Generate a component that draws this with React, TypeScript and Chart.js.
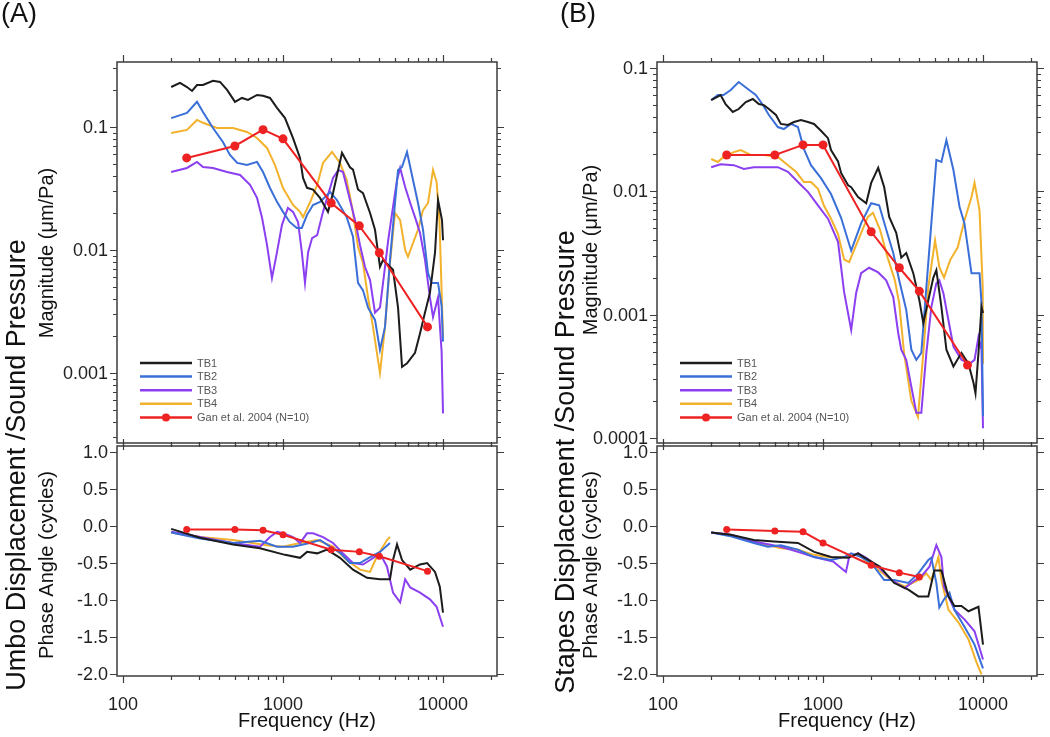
import { useEffect, useRef } from "react";
import { Chart, registerables } from "chart.js";

Chart.register(...registerables);

type Pt = [number, number];

const FONT = '"Liberation Sans", Arial, Helvetica, sans-serif';

const seriesNames = ["TB1", "TB2", "TB3", "TB4", "Gan et al. 2004 (N=10)"];
const seriesColors = ["#1c1c1c", "#3a6fd8", "#8b3ff0", "#f2b22c", "#ee2222"];

// ---------- Panel A: umbo magnitude (um/Pa) ----------
const magA_TB1: Pt[] = [
  [200, 0.211], [227, 0.228], [251, 0.211], [270, 0.196], [290, 0.219], [316, 0.219], [365, 0.237],
  [404, 0.232], [447, 0.2], [501, 0.16], [554, 0.172], [604, 0.166], [688, 0.182], [750, 0.179],
  [829, 0.172], [917, 0.143], [1029, 0.118], [1155, 0.081], [1277, 0.056], [1334, 0.0385],
  [1413, 0.032], [1540, 0.031], [1703, 0.0265], [1910, 0.0204], [2054, 0.029], [2337, 0.0615],
  [2622, 0.047], [2738, 0.045], [2943, 0.031], [3162, 0.029], [3499, 0.02], [3758, 0.0146],
  [4037, 0.0073], [4217, 0.0083], [4870, 0.0069], [5236, 0.0034], [5546, 0.00112], [5957, 0.0012],
  [6683, 0.00146], [7180, 0.0021], [7718, 0.0031], [8289, 0.0045], [8913, 0.0095], [9306, 0.0255],
  [9857, 0.0175], [10000, 0.012],
];
const magA_TB2: Pt[] = [
  [200, 0.118], [251, 0.13], [290, 0.16], [316, 0.132], [365, 0.098], [421, 0.0755], [466, 0.0592],
  [517, 0.051], [595, 0.049], [688, 0.052], [750, 0.043], [829, 0.0319], [917, 0.0246], [1000, 0.0204],
  [1101, 0.0169], [1220, 0.0151], [1311, 0.0151], [1413, 0.0193], [1540, 0.0232], [1703, 0.0246],
  [1970, 0.0296], [2170, 0.0255], [2500, 0.0185], [2738, 0.0128], [2943, 0.0054], [3162, 0.0047],
  [3400, 0.0034], [3758, 0.0027], [4037, 0.00154], [4340, 0.00237], [4663, 0.0083], [5012, 0.0241],
  [5236, 0.0447], [5546, 0.0473], [5957, 0.0626], [6494, 0.037], [6978, 0.0241], [7499, 0.0146],
  [8058, 0.0065], [8483, 0.0054], [9306, 0.0054], [9800, 0.0035], [10000, 0.0018],
];
const magA_TB3: Pt[] = [
  [200, 0.043], [251, 0.0464], [290, 0.052], [316, 0.0473], [365, 0.0464], [447, 0.043], [539, 0.0407],
  [622, 0.0338], [688, 0.0265], [740, 0.0182], [794, 0.011], [853, 0.0059], [917, 0.0096], [985, 0.016],
  [1073, 0.022], [1155, 0.0204], [1241, 0.0169], [1311, 0.0096], [1372, 0.0054], [1435, 0.0096],
  [1520, 0.0125], [1635, 0.0132], [1778, 0.0204], [1910, 0.028], [2054, 0.0385], [2218, 0.0447],
  [2371, 0.043], [2622, 0.0255], [2818, 0.0175], [3027, 0.011], [3252, 0.0073], [3499, 0.0057],
  [3758, 0.0031], [4037, 0.0034], [4340, 0.0073], [4545, 0.012], [4870, 0.0224], [5160, 0.037],
  [5395, 0.0464], [5800, 0.0325], [6237, 0.0241], [6683, 0.0185], [7180, 0.0138], [7718, 0.0083],
  [8289, 0.0041], [8660, 0.00285], [9306, 0.0041], [9800, 0.0015], [10000, 0.00047],
];
const magA_TB4: Pt[] = [
  [200, 0.0894], [251, 0.0946], [290, 0.114], [316, 0.108], [387, 0.098], [487, 0.098], [595, 0.091],
  [688, 0.0814], [794, 0.0675], [891, 0.049], [1000, 0.0319], [1155, 0.0232], [1277, 0.0204],
  [1334, 0.0185], [1480, 0.0246], [1635, 0.0338], [1778, 0.051], [2023, 0.0626], [2270, 0.051],
  [2500, 0.037], [2700, 0.0224], [2943, 0.0106], [3162, 0.0078], [3400, 0.0041], [3650, 0.00237],
  [4037, 0.001], [4340, 0.00237], [4663, 0.0078], [5012, 0.02], [5395, 0.0175], [5800, 0.01],
  [6040, 0.0088], [6494, 0.0114], [6978, 0.0146], [7499, 0.0211], [8058, 0.0241], [8660, 0.0447],
  [9120, 0.0357], [9500, 0.0175], [10000, 0.00196],
];
const magA_Gan: Pt[] = [
  [250, 0.056], [500, 0.07], [750, 0.095], [1000, 0.08], [2000, 0.0241], [3000, 0.0157], [4000, 0.0095], [8000, 0.00237],
];

// ---------- Panel A: umbo phase (cycles) ----------
const phA_TB1: Pt[] = [
  [200, -0.04], [303, -0.16], [487, -0.25], [718, -0.3], [1029, -0.39], [1277, -0.43], [1413, -0.35],
  [1635, -0.37], [1884, -0.32], [2270, -0.43], [2738, -0.59], [3349, -0.7], [4037, -0.72], [4663, -0.72],
  [4870, -0.46], [5160, -0.25], [5546, -0.46], [6237, -0.59], [7180, -0.52], [7957, -0.5], [8913, -0.62],
  [9550, -0.82], [10000, -1.17],
];
const phA_TB2: Pt[] = [
  [200, -0.09], [303, -0.17], [487, -0.23], [718, -0.2], [917, -0.28], [1155, -0.28], [1468, -0.23],
  [1703, -0.19], [1970, -0.28], [2270, -0.36], [2622, -0.5], [3027, -0.5], [3499, -0.42], [4037, -0.35],
  [4663, -0.23],
];
const phA_TB3: Pt[] = [
  [200, -0.08], [303, -0.15], [487, -0.23], [718, -0.28], [829, -0.15], [917, -0.08], [1000, -0.1],
  [1155, -0.15], [1277, -0.23], [1413, -0.1], [1540, -0.1], [1778, -0.15], [2054, -0.23], [2371, -0.37],
  [2738, -0.5], [3162, -0.52], [3499, -0.46], [4037, -0.37], [4467, -0.55], [4870, -0.9], [5395, -1.03],
  [5800, -0.72], [6237, -0.83], [7180, -0.9], [8289, -0.99], [9120, -1.09], [10000, -1.36],
];
const phA_TB4: Pt[] = [
  [200, -0.09], [303, -0.15], [487, -0.19], [794, -0.26], [1000, -0.28], [1277, -0.23], [1635, -0.19],
  [2054, -0.28], [2500, -0.46], [3027, -0.59], [3499, -0.62], [3868, -0.41], [4467, -0.19], [4663, -0.15],
];
const phA_Gan: Pt[] = [
  [250, -0.05], [500, -0.05], [750, -0.06], [1000, -0.12], [2000, -0.32], [3000, -0.35], [4000, -0.41], [8000, -0.61],
];

// ---------- Panel B: stapes magnitude (um/Pa) ----------
const magB_TB1: Pt[] = [
  [200, 0.055], [229, 0.0604], [246, 0.051], [273, 0.044], [297, 0.0465], [329, 0.053], [364, 0.0561],
  [397, 0.051], [427, 0.05], [459, 0.0465], [508, 0.0416], [545, 0.0352], [604, 0.0345], [658, 0.0365],
  [728, 0.0379], [805, 0.0365], [879, 0.0352], [971, 0.031], [1074, 0.027], [1122, 0.0216], [1241, 0.0175],
  [1297, 0.0141], [1435, 0.0112], [1500, 0.0108], [1656, 0.009], [1862, 0.008], [2000, 0.0117],
  [2213, 0.0155], [2412, 0.0108], [2592, 0.0062], [2868, 0.0046], [3083, 0.0029], [3313, 0.00316],
  [3665, 0.00217], [4000, 0.00131], [4236, 0.00085], [4551, 0.00131], [4893, 0.002], [5110, 0.0023],
  [5496, 0.00115], [5905, 0.00052], [6533, 0.00038], [7331, 0.00049], [8112, 0.0004], [8717, 0.00028],
  [8974, 0.00023], [9368, 0.00049], [9785, 0.00115], [10000, 0.00103],
];
const magB_TB2: Pt[] = [
  [200, 0.055], [220, 0.0604], [239, 0.0604], [265, 0.0664], [297, 0.077], [339, 0.0676], [380, 0.0604],
  [421, 0.0501], [459, 0.0416], [522, 0.0332], [569, 0.032], [630, 0.0352], [697, 0.0332], [760, 0.022],
  [841, 0.0163], [971, 0.0128], [1122, 0.0095], [1297, 0.0061], [1500, 0.0033], [1730, 0.0055],
  [2000, 0.008], [2244, 0.0077], [2483, 0.0049], [2748, 0.00316], [2994, 0.0019], [3313, 0.00109],
  [3565, 0.00052], [3830, 0.00043], [4115, 0.00049], [4426, 0.00167], [4755, 0.0055], [5110, 0.018],
  [5496, 0.0173], [5905, 0.026], [6533, 0.0149], [7130, 0.0075], [7656, 0.0055], [8472, 0.00217],
  [9510, 0.00217], [9785, 0.00124], [10000, 0.00015],
];
const magB_TB3: Pt[] = [
  [200, 0.0157], [229, 0.0166], [277, 0.0163], [320, 0.0152], [369, 0.0157], [452, 0.0157], [522, 0.0157],
  [604, 0.0144], [697, 0.0119], [805, 0.0099], [930, 0.0077], [1074, 0.006], [1241, 0.0039],
  [1355, 0.00152], [1500, 0.00075], [1611, 0.0015], [1730, 0.00217], [1941, 0.0024], [2213, 0.0022],
  [2483, 0.0019], [2748, 0.00139], [2951, 0.00071], [3083, 0.00052], [3313, 0.00043], [3565, 0.00026],
  [3830, 0.00016], [4115, 0.00016], [4426, 0.00049], [4755, 0.00115], [5110, 0.0018], [5334, 0.0019],
  [5649, 0.0015], [6081, 0.0009], [6533, 0.00055], [7331, 0.00043], [8228, 0.0004], [8851, 0.00043],
  [9368, 0.00066], [9785, 0.00052], [10000, 0.00012],
];
const magB_TB4: Pt[] = [
  [200, 0.0183], [220, 0.0173], [239, 0.019], [277, 0.0208], [306, 0.0216], [353, 0.0197], [427, 0.0197],
  [522, 0.019], [604, 0.0163], [678, 0.0144], [760, 0.0119], [841, 0.0119], [930, 0.0105], [1011, 0.0077],
  [1122, 0.006], [1241, 0.0045], [1355, 0.0028], [1457, 0.00267], [1656, 0.004], [1907, 0.0062],
  [2053, 0.0067], [2270, 0.0049], [2535, 0.0029], [2812, 0.0019], [2994, 0.00124], [3210, 0.00049],
  [3565, 0.0002], [3922, 0.000148], [4236, 0.00049], [4551, 0.00167], [5014, 0.004], [5334, 0.00243],
  [5708, 0.002], [6231, 0.00277], [6944, 0.0035], [7656, 0.0058], [8472, 0.009], [8851, 0.0117],
  [9510, 0.007], [9958, 0.00167], [10000, 0.0004],
];
const magB_Gan: Pt[] = [
  [250, 0.0197], [500, 0.0197], [750, 0.0238], [1000, 0.0238], [2000, 0.0047], [3000, 0.0024], [4000, 0.00155], [8000, 0.00039],
];

// ---------- Panel B: stapes phase (cycles) ----------
const phB_TB1: Pt[] = [
  [200, -0.09], [265, -0.12], [369, -0.19], [494, -0.21], [697, -0.23], [880, -0.35], [1122, -0.42],
  [1435, -0.43], [1656, -0.37], [1800, -0.42], [2270, -0.55], [2787, -0.77], [3413, -0.86], [3942, -0.95],
  [4551, -0.95], [4966, -0.6], [5496, -0.6], [6081, -0.95], [6628, -1.08], [7331, -1.08], [8112, -1.15],
  [9368, -1.09], [10000, -1.6],
];
const phB_TB2: Pt[] = [
  [200, -0.09], [265, -0.14], [369, -0.23], [452, -0.28], [545, -0.26], [697, -0.32], [880, -0.42],
  [1122, -0.46], [1355, -0.42], [1500, -0.37], [1730, -0.42], [2000, -0.5], [2412, -0.73], [2787, -0.73],
  [3413, -0.77], [3942, -0.64], [4551, -0.46], [4755, -0.43], [5110, -0.77], [5334, -1.1], [5708, -0.99],
  [6167, -0.9], [6628, -1.13], [7656, -1.36], [8851, -1.6], [10000, -1.92],
];
const phB_TB3: Pt[] = [
  [200, -0.09], [265, -0.12], [369, -0.21], [545, -0.28], [697, -0.35], [880, -0.42], [1156, -0.48],
  [1391, -0.62], [1457, -0.42], [1656, -0.37], [1862, -0.43], [2213, -0.55], [2683, -0.73], [3240, -0.84],
  [3766, -0.73], [4115, -0.68], [4626, -0.55], [5110, -0.26], [5496, -0.42], [5708, -0.82], [6628, -1.13],
  [7656, -1.26], [8851, -1.42], [10000, -1.8],
];
const phB_TB4: Pt[] = [
  [200, -0.09], [265, -0.12], [369, -0.21], [545, -0.3], [697, -0.32], [880, -0.39], [1156, -0.43],
  [1435, -0.42], [1656, -0.37], [1800, -0.45], [2213, -0.59], [2683, -0.73], [3240, -0.82], [3942, -0.73],
  [4426, -0.64], [4755, -0.73], [5264, -0.42], [5496, -0.73], [6081, -1.13], [7015, -1.3], [8112, -1.53],
  [9109, -1.84], [9785, -2.0],
];
const phB_Gan: Pt[] = [
  [250, -0.05], [500, -0.07], [750, -0.08], [1000, -0.23], [2000, -0.53], [3000, -0.63], [4000, -0.69],
];

// ---------- axes ----------
const freqTickValues = [100, 1000, 10000];
const freqTickLabels = ["100", "1000", "10000"];
const magATickValues = [0.1, 0.01, 0.001];
const magATickLabels = ["0.1", "0.01", "0.001"];
const magBTickValues = [0.1, 0.01, 0.001, 0.0001];
const magBTickLabels = ["0.1", "0.01", "0.001", "0.0001"];
const phaseTickValues = [1, 0.5, 0, -0.5, -1, -1.5, -2];
const phaseTickLabels = ["1.0", "0.5", "0.0", "-0.5", "-1.0", "-1.5", "-2.0"];

const FREQ_MIN = 91.7;
const FREQ_MAX = 21750;

interface TextSpec {
  text: string;
  x: number;
  y: number;
  size: number;
  rotate?: boolean;
  align?: CanvasTextAlign;
  baseline?: CanvasTextBaseline;
}

interface PanelSpec {
  left: number;
  kind: "mag" | "phase";
  series: Pt[][];
  yMin: number;
  yMax: number;
  yTickValues: number[];
  yTickLabels: string[];
  padding: { left: number; right: number; top: number; bottom: number };
  legendX?: number;
  texts: TextSpec[];
}

const panels: PanelSpec[] = [
  {
    left: 0,
    kind: "mag",
    series: [magA_TB1, magA_TB2, magA_TB3, magA_TB4, magA_Gan],
    yMin: 0.00027,
    yMax: 0.337,
    yTickValues: magATickValues,
    yTickLabels: magATickLabels,
    padding: { left: 117, right: 28, top: 62, bottom: 294 },
    legendX: 140,
    texts: [
      { text: "(A)", x: 1, y: 22, size: 27, align: "left", baseline: "alphabetic" },
      { text: "Magnitude (\u03bcm/Pa)", x: 47, y: 253, size: 20, rotate: true },
    ],
  },
  {
    left: 0,
    kind: "phase",
    series: [phA_TB1, phA_TB2, phA_TB3, phA_TB4, phA_Gan],
    yMin: -2.023,
    yMax: 1.077,
    yTickValues: phaseTickValues,
    yTickLabels: phaseTickLabels,
    padding: { left: 117, right: 28, top: 446, bottom: 61 },
    texts: [
      { text: "Umbo Displacement /Sound Pressure", x: 18, y: 465, size: 27, rotate: true },
      { text: "Phase Angle (cycles)", x: 47, y: 565, size: 20, rotate: true },
      { text: "Frequency (Hz)", x: 307, y: 721, size: 20 },
    ],
  },
  {
    left: 525,
    kind: "mag",
    series: [magB_TB1, magB_TB2, magB_TB3, magB_TB4, magB_Gan],
    yMin: 0.000091,
    yMax: 0.1119,
    yTickValues: magBTickValues,
    yTickLabels: magBTickLabels,
    padding: { left: 132, right: 13, top: 62, bottom: 294 },
    legendX: 155,
    texts: [
      { text: "(B)", x: 35, y: 22, size: 27, align: "left", baseline: "alphabetic" },
      { text: "Magnitude (\u03bcm/Pa)", x: 66, y: 250, size: 20, rotate: true },
    ],
  },
  {
    left: 525,
    kind: "phase",
    series: [phB_TB1, phB_TB2, phB_TB3, phB_TB4, phB_Gan],
    yMin: -2.023,
    yMax: 1.077,
    yTickValues: phaseTickValues,
    yTickLabels: phaseTickLabels,
    padding: { left: 132, right: 13, top: 446, bottom: 61 },
    texts: [
      { text: "Stapes Displacement /Sound Pressure", x: 42, y: 462, size: 27, rotate: true },
      { text: "Phase Angle (cycles)", x: 66, y: 565, size: 20, rotate: true },
      { text: "Frequency (Hz)", x: 322, y: 721, size: 20 },
    ],
  },
];

function drawDeco(chart: Chart, spec: PanelSpec) {
  const ctx = chart.ctx;
  const a = chart.chartArea;
  const xs: any = chart.scales.x;
  const ys: any = chart.scales.y;
  ctx.save();

  // frame
  ctx.strokeStyle = "#3c3c3c";
  ctx.lineWidth = 1.5;
  ctx.strokeRect(a.left, a.top, a.right - a.left, a.bottom - a.top);

  // x ticks (top outward, bottom outward)
  ctx.lineWidth = 1.2;
  ctx.beginPath();
  for (let e = 1; e <= 4; e++) {
    for (let k = 1; k <= 9; k++) {
      const v = k * Math.pow(10, e);
      if (v < xs.min || v > xs.max) continue;
      const px = Math.round(xs.getPixelForValue(v)) + 0.5;
      const len = k === 1 ? 7 : 4;
      ctx.moveTo(px, a.top);
      ctx.lineTo(px, a.top - len);
      ctx.moveTo(px, a.bottom);
      ctx.lineTo(px, a.bottom + len);
    }
  }
  // y ticks
  if (spec.kind === "mag") {
    for (let e = -5; e <= 0; e++) {
      for (let k = 1; k <= 9; k++) {
        const v = k * Math.pow(10, e);
        if (v < ys.min || v > ys.max) continue;
        const py = Math.round(ys.getPixelForValue(v)) + 0.5;
        const len = k === 1 ? 7 : 4;
        ctx.moveTo(a.left, py);
        ctx.lineTo(a.left - len, py);
        ctx.moveTo(a.right, py);
        ctx.lineTo(a.right + len, py);
      }
    }
  } else {
    for (const v of spec.yTickValues) {
      const py = Math.round(ys.getPixelForValue(v)) + 0.5;
      ctx.moveTo(a.left, py);
      ctx.lineTo(a.left - 7, py);
      ctx.moveTo(a.right, py);
      ctx.lineTo(a.right + 7, py);
    }
  }
  ctx.stroke();

  // y tick labels
  ctx.fillStyle = "#222";
  ctx.font = `18px ${FONT}`;
  ctx.textAlign = "right";
  ctx.textBaseline = "middle";
  spec.yTickValues.forEach((v, i) => {
    ctx.fillText(spec.yTickLabels[i], a.left - 9, ys.getPixelForValue(v) + 1);
  });

  // x tick labels
  if (spec.kind === "phase") {
    ctx.textAlign = "center";
    freqTickValues.forEach((v, i) => {
      ctx.fillText(freqTickLabels[i], xs.getPixelForValue(v), 705);
    });
  }

  // titles
  for (const t of spec.texts) {
    ctx.save();
    ctx.fillStyle = "#111";
    ctx.font = `${t.size}px ${FONT}`;
    ctx.textAlign = t.align || "center";
    ctx.textBaseline = t.baseline || "middle";
    ctx.translate(t.x, t.y);
    if (t.rotate) ctx.rotate(-Math.PI / 2);
    ctx.fillText(t.text, 0, 0);
    ctx.restore();
  }

  // legend
  if (spec.legendX !== undefined) {
    const x0 = spec.legendX;
    const x1 = x0 + 52;
    ctx.font = `11px ${FONT}`;
    ctx.textAlign = "left";
    ctx.textBaseline = "middle";
    seriesNames.forEach((name, i) => {
      const y = 363 + i * 13.6;
      ctx.strokeStyle = seriesColors[i];
      ctx.lineWidth = 2.5;
      ctx.beginPath();
      ctx.moveTo(x0, y);
      ctx.lineTo(x1, y);
      ctx.stroke();
      if (i === 4) {
        ctx.fillStyle = seriesColors[i];
        ctx.beginPath();
        ctx.arc((x0 + x1) / 2, y, 4, 0, Math.PI * 2);
        ctx.fill();
      }
      ctx.fillStyle = "#555";
      ctx.fillText(name, x1 + 5, y + 0.5);
    });
  }
  ctx.restore();
}

function buildChart(canvas: HTMLCanvasElement, spec: PanelSpec): Chart {
  const datasets = spec.series.map((pts, i) => ({
    label: seriesNames[i],
    data: pts.map(([x, y]) => ({ x, y })),
    borderColor: seriesColors[i],
    backgroundColor: seriesColors[i],
    borderWidth: 2,
    pointRadius: i === 4 ? (spec.kind === "mag" ? 4.5 : 3.5) : 0,
    pointBorderWidth: 0,
    tension: 0,
    fill: false,
    order: i === 4 ? -1 : i,
  }));
  return new Chart(canvas, {
    type: "line",
    data: { datasets },
    options: {
      responsive: false,
      animation: false,
      devicePixelRatio: 1,
      events: [],
      layout: { padding: spec.padding },
      plugins: { legend: { display: false }, tooltip: { enabled: false } },
      scales: {
        x: { type: "logarithmic", min: FREQ_MIN, max: FREQ_MAX, display: false },
        y: {
          type: spec.kind === "mag" ? "logarithmic" : "linear",
          min: spec.yMin,
          max: spec.yMax,
          display: false,
        },
      },
    } as any,
    plugins: [{ id: "deco", afterDraw: (c: Chart) => drawDeco(c, spec) }],
  });
}

export default function App() {
  const refs = useRef<(HTMLCanvasElement | null)[]>([]);
  useEffect(() => {
    const charts = panels.map((spec, i) => buildChart(refs.current[i] as HTMLCanvasElement, spec));
    return () => charts.forEach((c) => c.destroy());
  }, []);
  return (
    <div
      style={{
        position: "absolute",
        left: 0,
        top: 0,
        width: 1050,
        height: 737,
        background: "#ffffff",
        overflow: "hidden",
      }}
    >
      {panels.map((p, i) => (
        <canvas
          key={i}
          ref={(el) => {
            refs.current[i] = el;
          }}
          width={525}
          height={737}
          style={{ position: "absolute", left: p.left, top: 0, width: 525, height: 737 }}
        />
      ))}
    </div>
  );
}
